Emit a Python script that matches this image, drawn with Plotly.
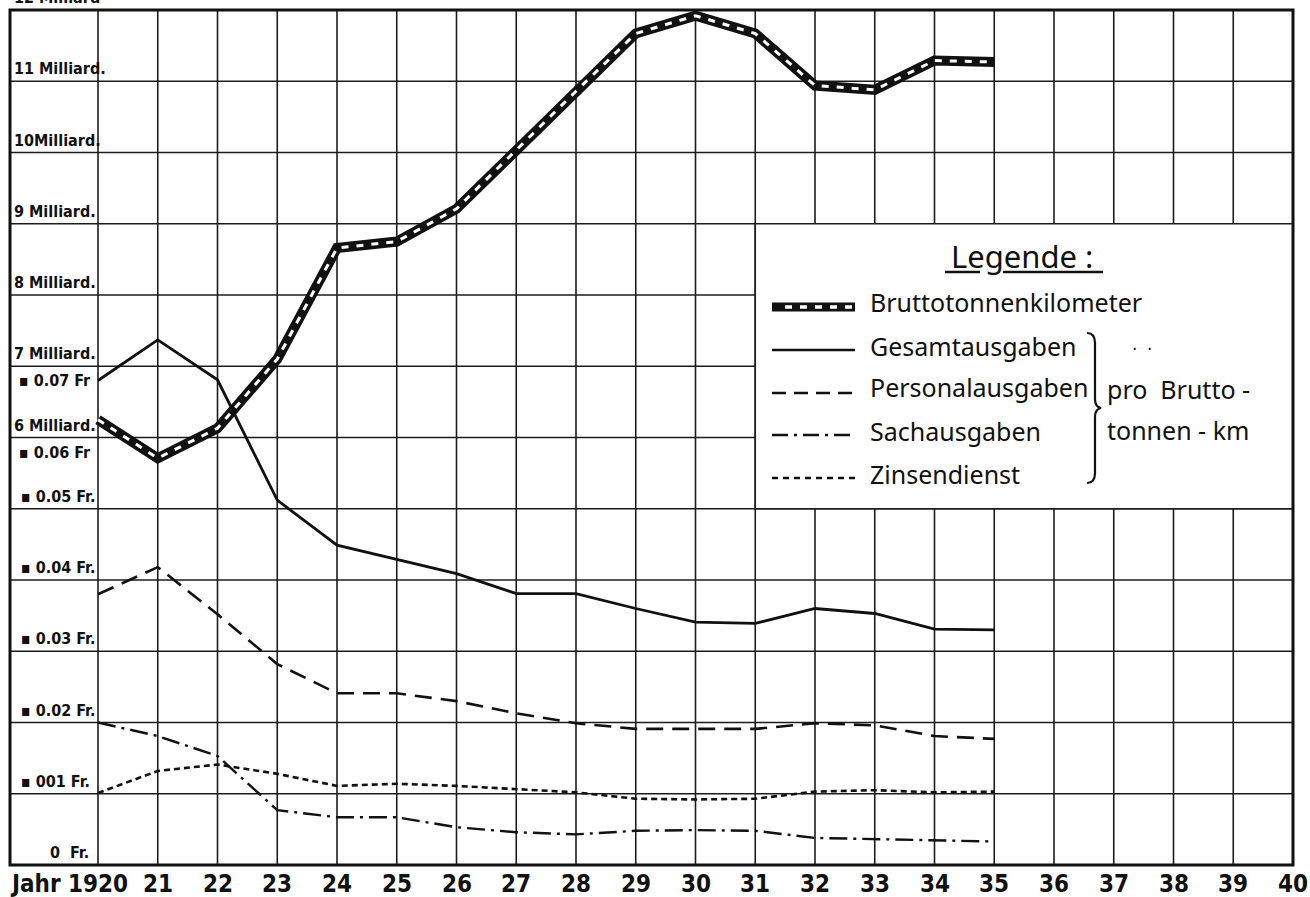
import plotly.graph_objects as go

# ---------------- data ----------------
years = [1920, 1921, 1922, 1923, 1924, 1925, 1926, 1927, 1928, 1929,
         1930, 1931, 1932, 1933, 1934, 1935]

# Bruttotonnenkilometer (Milliarden)
brutto_mrd = [6.25, 5.71, 6.13, 7.10, 8.66, 8.75, 9.21, 10.04, 10.86, 11.67,
              11.92, 11.67, 10.94, 10.88, 11.29, 11.27]

# Ausgaben pro Bruttotonnen-km (Fr.)
gesamt_fr = [0.0680, 0.0737, 0.0681, 0.0512, 0.0449, 0.0429, 0.0409, 0.0381, 0.0381, 0.0360,
             0.0341, 0.0339, 0.0360, 0.0353, 0.0331, 0.0330]
personal_fr = [0.0380, 0.0418, 0.0352, 0.0282, 0.0241, 0.0241, 0.0230, 0.0213, 0.0199, 0.0191,
               0.0191, 0.0191, 0.0199, 0.0196, 0.0181, 0.0177]
sach_fr = [0.0200, 0.0181, 0.0153, 0.0077, 0.0067, 0.0067, 0.0053, 0.0046, 0.0043, 0.0048,
           0.0049, 0.0048, 0.0038, 0.0036, 0.0035, 0.0033]
zins_fr = [0.0101, 0.0132, 0.0141, 0.0128, 0.0111, 0.0114, 0.0111, 0.0107, 0.0102, 0.0093,
           0.0092, 0.0093, 0.0103, 0.0105, 0.0102, 0.0103]

tick_years = list(range(1920, 1941))
tick_text = ["1920"] + [str(y)[2:] for y in tick_years[1:]]

mrd_labels = [(12, "12 Milliard"), (11, "11 Milliard."), (10, "10Milliard."), (9, "9 Milliard."),
              (8, "8 Milliard."), (7, "7 Milliard."), (6, "6 Milliard.")]
fr_labels_below = [(0.07, "▪ 0.07 Fr"), (0.06, "▪ 0.06 Fr")]
fr_labels_above = [(0.05, "▪ 0.05 Fr."), (0.04, "▪ 0.04 Fr."), (0.03, "▪ 0.03 Fr."),
                   (0.02, "▪ 0.02 Fr."), (0.01, "▪ 001 Fr.")]

legend_names = ["Bruttotonnenkilometer", "Gesamtausgaben", "Personalausgaben",
                "Sachausgaben", "Zinsendienst"]

# ---------------- layout geometry ----------------
W, H = 1310, 897
PL, PR, PT, PB = 10, 1293, 10, 865
X0 = 1920 - (98 - PL) / ((PR - 98) / 20.0)


def px(X):
    return (X - PL) / (PR - PL)


def py(Y):
    return (PB - Y) / (PB - PT)


NARROW = "DejaVu Sans Condensed, Roboto, sans-serif"
LEGF = "Noto Sans"
INK = "#111111"

fig = go.Figure()

# Bruttotonnenkilometer: thick black line with white dashes inside
fig.add_trace(go.Scatter(x=years, y=brutto_mrd, mode="lines", yaxis="y",
                         line=dict(color=INK, width=10), showlegend=False,
                         hoverinfo="skip"))
fig.add_trace(go.Scatter(x=years, y=brutto_mrd, mode="lines", yaxis="y",
                         line=dict(color="white", width=3, dash="7px,8px"),
                         name=legend_names[0], showlegend=False))

fig.add_trace(go.Scatter(x=years, y=gesamt_fr, mode="lines", yaxis="y2",
                         line=dict(color=INK, width=2.8), name=legend_names[1],
                         showlegend=False))
fig.add_trace(go.Scatter(x=years, y=personal_fr, mode="lines", yaxis="y2",
                         line=dict(color=INK, width=2.6, dash="17px,9px"),
                         name=legend_names[2], showlegend=False))
fig.add_trace(go.Scatter(x=years, y=sach_fr, mode="lines", yaxis="y2",
                         line=dict(color=INK, width=2.4, dash="18px,6px,3px,6px"),
                         name=legend_names[3], showlegend=False))
fig.add_trace(go.Scatter(x=years, y=zins_fr, mode="lines", yaxis="y2",
                         line=dict(color=INK, width=2.6, dash="6px,4px"),
                         name=legend_names[4], showlegend=False))

shapes = []
# grid (drawn as shapes so the legend panel can cover it)
for yr in tick_years[:-1]:
    shapes.append(dict(type="line", xref="x", yref="paper", x0=yr, x1=yr, y0=0, y1=1,
                       line=dict(color="#1c1c1c", width=1.6), layer="below"))
for v in range(1, 12):
    shapes.append(dict(type="line", xref="paper", yref="y", x0=0, x1=1, y0=v, y1=v,
                       line=dict(color="#1c1c1c", width=1.6), layer="below"))
# legend panel
shapes.append(dict(type="rect", xref="x", yref="y", x0=1931, x1=1940, y0=5, y1=9,
                   fillcolor="white", line=dict(color="#1c1c1c", width=1.6), layer="below"))
# frame
shapes.append(dict(type="rect", xref="paper", yref="paper", x0=0, x1=1, y0=0, y1=1,
                   line=dict(color=INK, width=3), layer="above"))

# legend samples
ls_x0, ls_x1 = px(772), px(855)
sample_y = [307, 350, 393, 435, 478]
shapes.append(dict(type="line", xref="paper", yref="paper", x0=ls_x0, x1=ls_x1,
                   y0=py(sample_y[0]), y1=py(sample_y[0]), line=dict(color=INK, width=9)))
shapes.append(dict(type="line", xref="paper", yref="paper", x0=px(785), x1=ls_x1,
                   y0=py(sample_y[0]), y1=py(sample_y[0]),
                   line=dict(color="white", width=3.5, dash="7px,8px")))
sample_dash = ["solid", "14px,8px", "16px,6px,3px,6px", "6px,5px"]
for yy, dsh in zip(sample_y[1:], sample_dash):
    shapes.append(dict(type="line", xref="paper", yref="paper", x0=ls_x0, x1=ls_x1,
                       y0=py(yy), y1=py(yy), line=dict(color=INK, width=2.6, dash=dsh)))

# underline of "Legende :"
shapes.append(dict(type="line", xref="paper", yref="paper", x0=px(945), x1=px(980),
                   y0=py(272), y1=py(272), line=dict(color=INK, width=2.5)))
shapes.append(dict(type="line", xref="paper", yref="paper", x0=px(1003), x1=px(1103),
                   y0=py(272), y1=py(272), line=dict(color=INK, width=2.5)))

# brace
bx0, bx1, bx2 = px(1087), px(1095), px(1101)
brace = (f"M {bx0},{py(333)} Q {bx1},{py(333)} {bx1},{py(343)} "
         f"L {bx1},{py(399)} Q {bx1},{py(407)} {bx2},{py(408)} "
         f"Q {bx1},{py(409)} {bx1},{py(417)} "
         f"L {bx1},{py(473)} Q {bx1},{py(483)} {bx0},{py(483)}")
shapes.append(dict(type="path", xref="paper", yref="paper", path=brace,
                   line=dict(color=INK, width=2.2)))

LBL = dict(family=NARROW, size=16, color=INK, weight="bold")
annotations = []
for v, t in mrd_labels:
    annotations.append(dict(x=px(12), xref="paper", xanchor="left", y=v, yref="y",
                            yanchor="bottom", yshift=1, text=t, showarrow=False, font=LBL))
for v, t in fr_labels_below:
    annotations.append(dict(x=px(17), xref="paper", xanchor="left", y=v, yref="y2",
                            yanchor="top", yshift=-3, text=t, showarrow=False, font=LBL))
for v, t in fr_labels_above:
    annotations.append(dict(x=px(19), xref="paper", xanchor="left", y=v, yref="y2",
                            yanchor="bottom", yshift=1, text=t, showarrow=False, font=LBL))
annotations.append(dict(x=px(91), xref="paper", xanchor="right", y=0, yref="y2",
                        yanchor="bottom", yshift=1, text="0  Fr.", showarrow=False, font=LBL))

# x-axis labels (placed through the x scale)
XLF = dict(family=NARROW, size=24, color=INK, weight="bold")
for yr, t in zip(tick_years, tick_text):
    annotations.append(dict(x=yr, xref="x", xanchor="center", y=py(884), yref="paper",
                            yanchor="middle", text=t, showarrow=False, font=XLF))
annotations.append(dict(x=px(8), xref="paper", xanchor="left", y=py(884), yref="paper",
                        yanchor="middle", text="Jahr", showarrow=False, font=XLF))

# legend texts
annotations.append(dict(x=px(1022), xref="paper", xanchor="center", y=py(256), yref="paper",
                        yanchor="middle", text="Legende :", showarrow=False,
                        font=dict(family=LEGF, size=31, color=INK)))
text_y = [302, 346, 387, 431, 474]
for name, yy in zip(legend_names, text_y):
    annotations.append(dict(x=px(868), xref="paper", xanchor="left", y=py(yy), yref="paper",
                            yanchor="middle", text=name, showarrow=False,
                            font=dict(family=LEGF, size=25, color=INK)))
annotations.append(dict(x=px(1105), xref="paper", xanchor="left", y=py(389), yref="paper",
                        yanchor="middle", text="pro  Brutto -", showarrow=False,
                        font=dict(family=LEGF, size=25, color=INK)))
annotations.append(dict(x=px(1105), xref="paper", xanchor="left", y=py(430), yref="paper",
                        yanchor="middle", text="tonnen - km", showarrow=False,
                        font=dict(family=LEGF, size=25, color=INK)))
annotations.append(dict(x=px(1142), xref="paper", xanchor="center", y=py(348), yref="paper",
                        yanchor="middle", text="•     •", showarrow=False,
                        font=dict(family=LEGF, size=9, color=INK)))

fig.update_layout(
    width=W, height=H,
    margin=dict(l=PL, r=W - PR, t=PT, b=H - PB),
    paper_bgcolor="white", plot_bgcolor="white",
    template="none",
    showlegend=False,
    xaxis=dict(range=[X0, 1940], showgrid=False, zeroline=False, showline=False,
               showticklabels=False, ticks="", automargin=False),
    yaxis=dict(range=[0, 12], showgrid=False, zeroline=False, showline=False,
               showticklabels=False, ticks="", automargin=False),
    yaxis2=dict(range=[0, 0.12], overlaying="y", showgrid=False, zeroline=False,
                showline=False, showticklabels=False, ticks="", automargin=False),
    shapes=shapes,
    annotations=annotations,
)

fig.write_html("out.html",
               config={"displayModeBar": False},
               post_script="document.body.style.margin='0px';"
                           "document.body.style.overflow='hidden';")
